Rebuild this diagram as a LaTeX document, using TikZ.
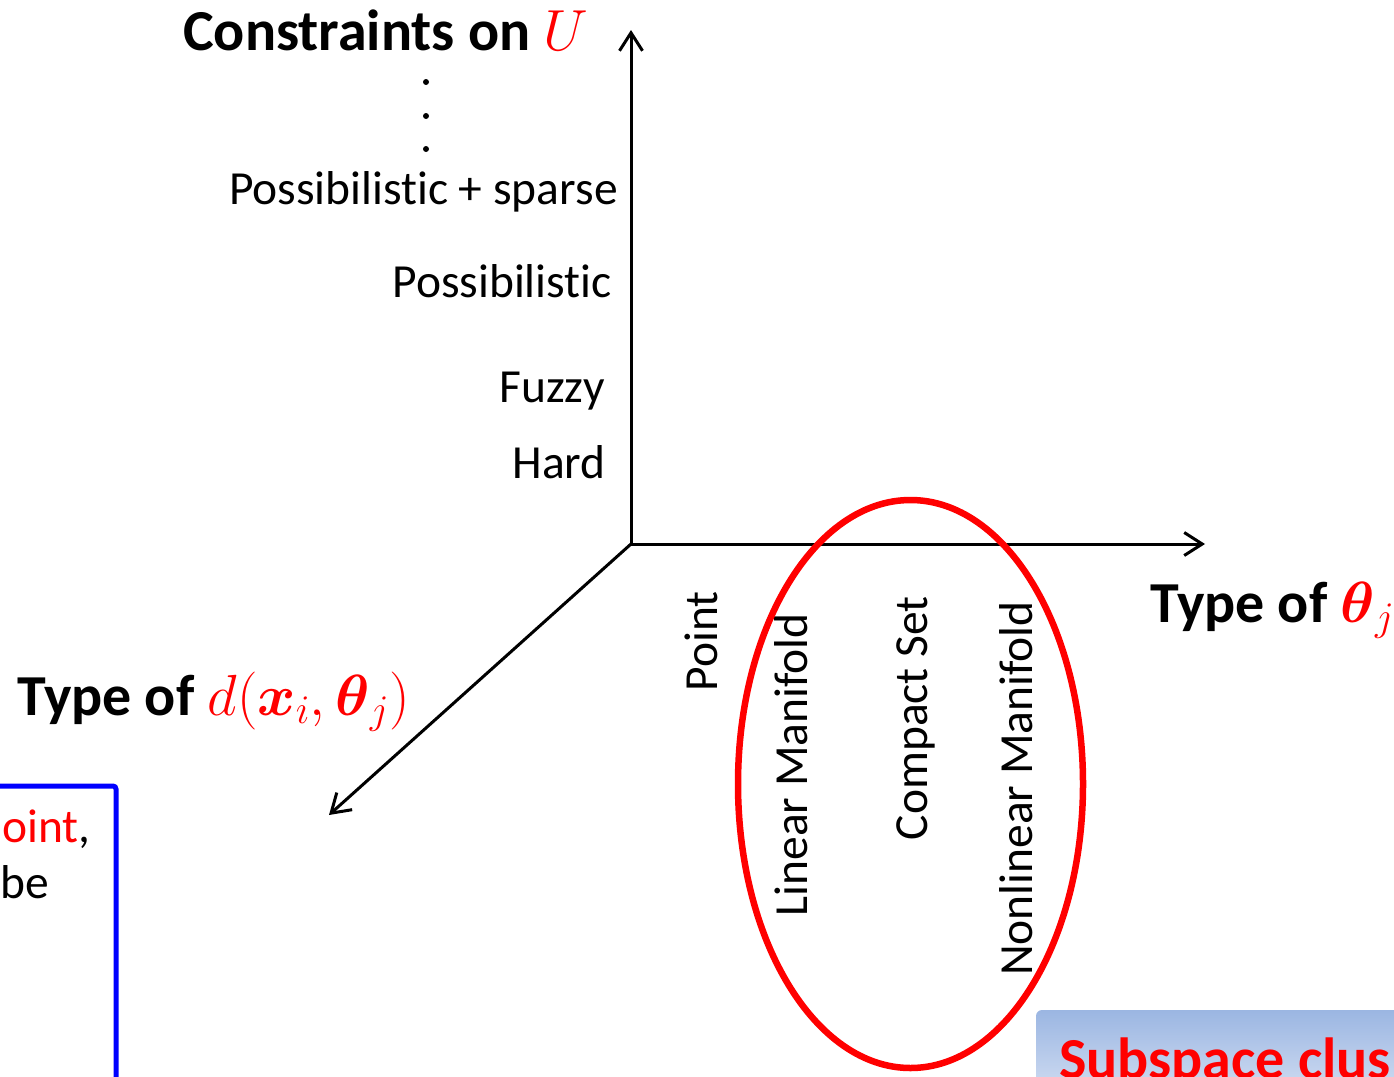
\RequirePackage{fix-cm}
\documentclass[tikz,border=0pt]{standalone}
\usepackage{amsmath}
\usepackage{fontspec}
\setmainfont{Carlito}[Ligatures=CommonOff]
\usetikzlibrary{arrows.meta}
\definecolor{boxtop}{RGB}{155,182,226}
\definecolor{boxbot}{RGB}{206,219,241}
\begin{document}
\begin{tikzpicture}[x=1pt,y=-1pt,
  axis/.style={line width=3pt,-{Straight Barb[length=18pt,width=23pt]}},
  lbl/.style={inner sep=0pt,font=\fontsize{47.5}{57}\selectfont},
  ttl/.style={inner sep=0pt,font=\fontsize{58}{70}\selectfont\bfseries},
  vlbl/.style={lbl,rotate=90,anchor=base east},
  dotmark/.style={fill=black}]
\useasboundingbox (0,0) rectangle (1394,1076);
\clip (0,0) rectangle (1394,1076);

% axes
\coordinate (O) at (631,544);
\coordinate (yt) at (631,30);
\coordinate (xt) at (1205,544);
\coordinate (zt) at (329,815);
\draw[axis] (O) -- (yt);
\draw[axis] (O) -- (xt);
\draw[axis] (O) -- (zt);

% axis titles
\node[ttl,anchor=base west] (ytitle) at (183,50) {Constraints on \textcolor{red}{$U$}};
\node[ttl,anchor=base west] (xtitle) at (1150,622) {Type of \textcolor{red}{$\boldsymbol{\theta}_j$}};
\node[ttl,anchor=base west] (ztitle) at (17,715) {Type of \textcolor{red}{$d(\boldsymbol{x}_i,\boldsymbol{\theta}_j)$}};

% vertical dots
\fill[dotmark] (426,82) circle (3);
\fill[dotmark] (426,116) circle (3);
\fill[dotmark] (426,149) circle (3);

% y-axis labels
\node[lbl,anchor=base east] (ps) at (618,204) {Possibilistic + sparse};
\node[lbl,anchor=base east] (pos) at (612,297) {Possibilistic};
\node[lbl,anchor=base east] (fz) at (605,402) {Fuzzy};
\node[lbl,anchor=base east] (hd) at (606,478) {Hard};

% x-axis labels (rotated)
\node[vlbl] (pt) at (717,591) {Point};
\node[vlbl] (lm) at (807,613) {Linear Manifold};
\node[vlbl] (cs) at (927,596) {Compact Set};
\node[vlbl] (nm) at (1032,601) {Nonlinear Manifold};

% red ellipse
\draw[red,line width=6.5pt] (910.5,784) ellipse [x radius=172.5,y radius=284];

% blue box (partially visible)
\draw[blue,line width=5pt,rounded corners=3pt] (-20,786) -- (116,786) -- (116,1100);
\node[lbl,anchor=base east] (t1) at (91,842) {\textcolor{red}{oint},};
\node[lbl,anchor=base east] (t2) at (49,898) {be};

% bottom-right box (partially visible)
\shade[top color=boxtop,bottom color=boxbot,rounded corners=6pt] (1036,1010) rectangle (1430,1090);
\node[inner sep=0pt,anchor=base west,text=red,font=\fontsize{58}{70}\selectfont\bfseries] (sub) at (1059,1078) {Subspace clus};
\end{tikzpicture}
\end{document}
